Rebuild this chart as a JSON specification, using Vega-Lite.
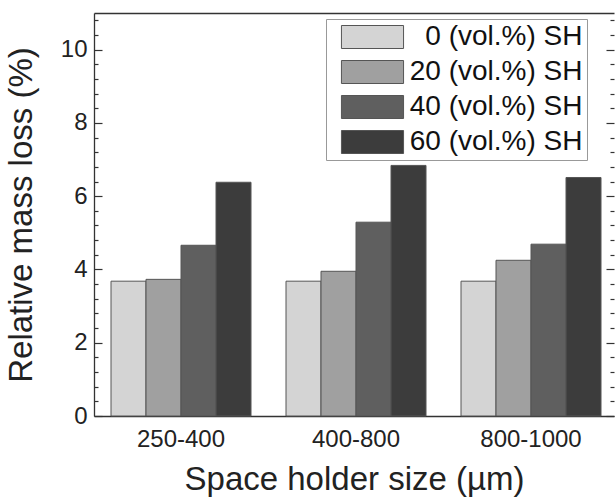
{
  "$schema": "https://vega.github.io/schema/vega-lite/v6.json",
  "width": 520,
  "height": 403,
  "autosize": "none",
  "padding": {"left": 94, "top": 13, "right": 1, "bottom": 82},
  "background": "white",
  "config": {
    "font": "Liberation Sans",
    "view": {"stroke": null},
    "axis": {"domainColor": "#333", "tickColor": "#333", "labelColor": "#222", "titleColor": "#222", "grid": false, "domainWidth": 1.3, "tickWidth": 1.2}
  },
  "data": {
    "values": [
      {"size": "250-400", "sh": "0 (vol.%) SH", "loss": 3.68},
      {"size": "250-400", "sh": "20 (vol.%) SH", "loss": 3.73},
      {"size": "250-400", "sh": "40 (vol.%) SH", "loss": 4.66},
      {"size": "250-400", "sh": "60 (vol.%) SH", "loss": 6.38},
      {"size": "400-800", "sh": "0 (vol.%) SH", "loss": 3.68},
      {"size": "400-800", "sh": "20 (vol.%) SH", "loss": 3.95},
      {"size": "400-800", "sh": "40 (vol.%) SH", "loss": 5.29},
      {"size": "400-800", "sh": "60 (vol.%) SH", "loss": 6.84},
      {"size": "800-1000", "sh": "0 (vol.%) SH", "loss": 3.68},
      {"size": "800-1000", "sh": "20 (vol.%) SH", "loss": 4.25},
      {"size": "800-1000", "sh": "40 (vol.%) SH", "loss": 4.69},
      {"size": "800-1000", "sh": "60 (vol.%) SH", "loss": 6.51}
    ]
  },
  "layer": [
    {
      "mark": {"type": "bar", "stroke": "#555", "strokeWidth": 1},
      "encoding": {
        "x": {
          "field": "size", "type": "nominal",
          "sort": ["250-400", "400-800", "800-1000"],
          "scale": {"paddingInner": 0.2, "paddingOuter": 0.0857, "align": 0.567},
          "axis": {"title": "Space holder size (µm)", "titleFontSize": 33, "titleFontWeight": "normal", "titlePadding": 12, "labelFontSize": 24, "labelAngle": 0, "labelPadding": 11, "ticks": false, "orient": "bottom"}
        },
        "xOffset": {
          "field": "sh", "type": "nominal",
          "sort": ["0 (vol.%) SH", "20 (vol.%) SH", "40 (vol.%) SH", "60 (vol.%) SH"],
          "scale": {"paddingInner": 0, "paddingOuter": 0}
        },
        "y": {
          "field": "loss", "type": "quantitative",
          "scale": {"domain": [0, 11], "nice": false, "zero": true},
          "axis": {
            "orient": "left",
            "title": "Relative mass loss (%)", "titleFontSize": 33, "titleFontWeight": "normal", "titlePadding": 22,
            "values": [0, 2, 4, 6, 8, 10],
            "labelFontSize": 24,
            "labelPadding": 15,
            "tickSize": -8
          }
        },
        "color": {
          "field": "sh", "type": "nominal",
          "sort": ["0 (vol.%) SH", "20 (vol.%) SH", "40 (vol.%) SH", "60 (vol.%) SH"],
          "scale": {"range": ["#d4d4d4", "#a0a0a0", "#5f5f5f", "#3c3c3c"]},
          "legend": {
            "orient": "none", "legendX": 232, "legendY": 6, "title": null,
            "symbolType": "M-2.7,-1H2.7V1H-2.7Z", "symbolSize": 529,
            "symbolStrokeColor": "#555", "symbolStrokeWidth": 1, "symbolOpacity": 1,
            "labelFontSize": 28, "labelColor": "#111", "labelAlign": "right",
            "labelOffset": 196, "symbolOffset": 28.5, "rowPadding": 7,
            "padding": 4, "strokeColor": "#999", "labelLimit": 400
          }
        }
      }
    },
    {
      "mark": {"type": "bar", "opacity": 0},
      "encoding": {
        "x": {
          "field": "size", "type": "nominal",
          "sort": ["250-400", "400-800", "800-1000"],
          "axis": {"orient": "top", "labels": false, "ticks": false, "title": null, "domain": true}
        },
        "y": {
          "field": "loss", "type": "quantitative",
          "axis": {
            "orient": "left", "labels": false, "title": null, "domain": false,
            "values": [0.4, 0.8, 1.2, 1.6, 2.4, 2.8, 3.2, 3.6, 4.4, 4.8, 5.2, 5.6, 6.4, 6.8, 7.2, 7.6, 8.4, 8.8, 9.2, 9.6, 10.4, 10.8],
            "tickSize": -4
          }
        }
      }
    },
    {
      "mark": {"type": "bar", "opacity": 0},
      "encoding": {
        "x": {"field": "size", "type": "nominal", "sort": ["250-400", "400-800", "800-1000"], "axis": null},
        "y": {
          "field": "loss", "type": "quantitative",
          "axis": {
            "orient": "right", "labels": false, "title": null, "domain": false,
            "values": [0, 2, 4, 6, 8, 10],
            "tickSize": -8
          }
        }
      }
    },
    {
      "mark": {"type": "bar", "opacity": 0},
      "encoding": {
        "x": {"field": "size", "type": "nominal", "sort": ["250-400", "400-800", "800-1000"], "axis": null},
        "y": {
          "field": "loss", "type": "quantitative",
          "axis": {
            "orient": "right", "labels": false, "title": null, "domain": false,
            "values": [0.4, 0.8, 1.2, 1.6, 2.4, 2.8, 3.2, 3.6, 4.4, 4.8, 5.2, 5.6, 6.4, 6.8, 7.2, 7.6, 8.4, 8.8, 9.2, 9.6, 10.4, 10.8],
            "tickSize": -4
          }
        }
      }
    }
  ],
  "resolve": {"axis": {"x": "independent", "y": "independent"}}
}
